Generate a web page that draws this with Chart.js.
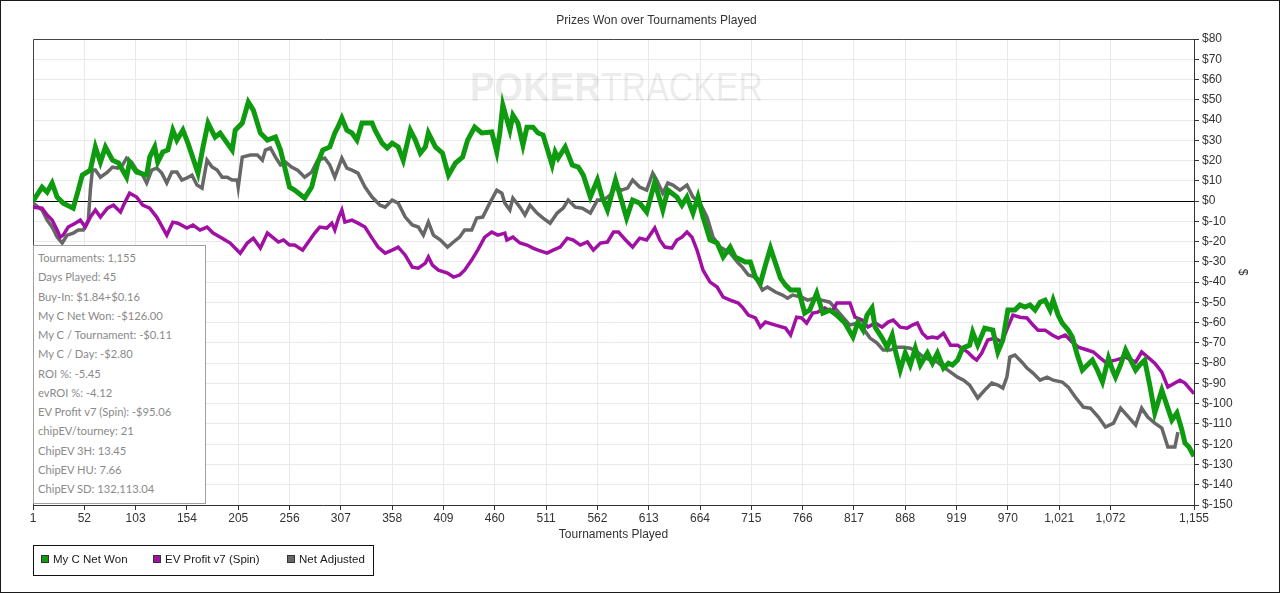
<!DOCTYPE html>
<html>
<head>
<meta charset="utf-8">
<script src="https://cdn.jsdelivr.net/npm/chart.js@4.4.1/dist/chart.umd.min.js"></script>
<style>
html,body{margin:0;padding:0;background:#fff;}
#wrap{position:relative;width:1280px;height:593px;overflow:hidden;}
#c{position:absolute;left:0;top:0;}
#frame{position:absolute;left:0;top:0;width:1280px;height:593px;box-sizing:border-box;border:1px solid #1a1a1a;pointer-events:none;}
#stats{position:absolute;left:33px;top:245px;width:173px;height:259px;box-sizing:border-box;border:1px solid #a0a0a0;background:#fff;
  font-family:Lato,"Noto Sans",sans-serif;font-size:11.2px;color:#8a8a8a;padding:2px 0 0 4px;}
#stats div{height:19.25px;line-height:19.25px;white-space:nowrap;}
</style>
</head>
<body>
<div id="wrap">
<canvas id="c" width="1280" height="593"></canvas>
<div id="stats"></div>
<div id="frame"></div>
</div>
<script>
// ---------------- data ----------------
const chartTitle = 'Prizes Won over Tournaments Played';
const xTitle = 'Tournaments Played';
const yTitle = '$';
const seriesNames = ['My C Net Won', 'EV Profit v7 (Spin)', 'Net Adjusted'];
const seriesColors = ['#0f9b0f', '#a010a3', '#676767'];
const xTicks = [1,52,103,154,205,256,307,358,409,460,511,562,613,664,715,766,817,868,919,970,1021,1072,1155];
const yMin = -150, yMax = 80, yStep = 10;

const statLines = [
  'Tournaments: 1,155',
  'Days Played: 45',
  'Buy-In: $1.84+$0.16',
  'My C Net Won: -$126.00',
  'My C / Tournament: -$0.11',
  'My C / Day: -$2.80',
  'ROI %: -5.45',
  'evROI %: -4.12',
  'EV Profit v7 (Spin): -$95.06',
  'chipEV/tourney: 21',
  'ChipEV 3H: 13.45',
  'ChipEV HU: 7.66',
  'ChipEV SD: 132,113.04'
];

const netWonT = [1,10,15,20,25,31,41,46,50,58,63,68,73,80,86,94,97,104,114,117,122,125,130,135,140,144,150,155,165,170,175,182,187,194,199,202,209,215,220,227,234,242,247,256,261,271,278,284,289,296,301,304,308,313,318,323,328,338,341,348,353,358,364,369,376,381,386,391,394,401,408,414,421,428,433,440,447,457,462,465,468,475,478,483,488,492,498,503,508,517,520,523,530,537,543,548,555,562,567,572,580,585,591,597,604,611,619,627,632,641,646,651,657,662,667,674,681,687,694,699,709,714,719,724,729,734,739,744,749,754,762,768,773,780,786,793,800,808,816,821,826,830,835,838,845,850,855,858,863,868,873,878,883,890,895,900,906,911,915,920,925,932,935,940,947,955,960,965,970,977,982,987,992,997,1002,1007,1012,1015,1020,1024,1030,1034,1039,1044,1049,1054,1059,1064,1070,1074,1077,1082,1087,1092,1097,1101,1106,1111,1116,1123,1128,1133,1138,1143,1146,1150,1155];
const netWonV = [0,6.9,4.4,8.9,2.0,-1.0,-3.5,5.4,12.8,15.3,26.7,19.2,26.7,20.2,18.8,11.8,19.2,14.3,12.8,21.7,26.7,19.2,24.2,25.2,35.0,30.1,35.0,28.6,13.8,26.7,38.5,31.6,33.6,28.6,25.2,35.0,38.5,48.9,44.9,33.6,30.1,31.6,25.2,6.9,5.4,1.5,6.9,18.8,25.2,26.7,33.6,36.5,41.0,35.0,33.6,30.1,38.5,38.5,35.0,28.6,26.2,28.6,26.7,20.2,35.0,30.1,23.7,26.7,33.6,26.7,23.7,12.8,18.8,21.7,30.1,36.5,33.6,34.1,24.2,33.6,47.4,35.0,42.4,38.5,27.6,36.5,36.5,33.6,32.6,17.8,24.2,21.2,26.7,17.8,16.8,12.8,2.0,10.4,1.5,-4.4,10.4,2.0,-8.4,0.5,-1.0,-5.4,9.4,-4.4,5.4,2.0,-2.0,2.0,-5.9,2.0,-7.9,-19.2,-20.7,-27.6,-22.7,-27.6,-30.1,-30.1,-37.5,-40.5,-31.6,-23.2,-30.6,-38.0,-41.5,-43.9,-43.9,-55.3,-53.8,-45.4,-55.3,-53.8,-56.3,-60.2,-67.1,-59.7,-63.7,-56.3,-52.8,-62.2,-67.6,-72.1,-66.1,-73.5,-83.4,-75.0,-80.9,-72.6,-80.9,-75.0,-80.0,-75.0,-82.4,-80.0,-80.9,-78.5,-72.6,-71.1,-64.7,-71.1,-62.7,-63.7,-74.5,-68.6,-53.8,-53.8,-51.3,-52.3,-51.3,-53.8,-49.9,-48.9,-53.8,-48.9,-56.3,-60.2,-63.7,-67.1,-76.0,-83.4,-80.9,-78.5,-83.4,-89.3,-77.5,-83.4,-86.9,-80.9,-73.5,-78.5,-83.4,-80.9,-78.5,-90.8,-104.6,-93.3,-100.7,-108.1,-104.6,-113.0,-119.4,-121.4,-126.0];

const evProfitT = [1,10,15,20,25,28,31,36,43,48,53,58,63,68,75,81,88,92,97,104,110,117,124,134,140,145,154,160,167,174,180,189,197,207,214,220,227,234,239,245,250,256,261,269,274,281,286,293,298,301,305,308,311,318,324,331,338,344,351,358,364,371,378,384,391,394,398,404,413,419,425,430,437,443,450,457,463,470,472,478,485,492,498,503,512,518,525,532,538,545,552,558,565,572,578,583,590,597,604,611,619,624,629,636,641,646,651,656,661,667,674,681,687,694,702,706,712,719,724,729,739,749,754,760,765,770,776,781,788,795,800,805,813,818,825,831,838,845,851,856,863,870,875,880,885,890,895,900,906,913,920,924,930,935,939,944,950,957,964,970,975,982,989,995,1000,1007,1014,1020,1027,1034,1040,1049,1055,1062,1067,1077,1087,1097,1103,1109,1116,1123,1129,1136,1141,1146,1155];
const evProfitV = [-3.0,-3.5,-6.9,-9.4,-14.3,-17.8,-16.8,-12.8,-10.9,-9.4,-12.8,-7.9,-4.4,-7.9,-3.5,-2.0,-5.4,-1.0,3.9,2.0,-2.0,-3.5,-7.9,-16.8,-10.4,-10.9,-13.3,-11.8,-14.3,-12.8,-15.8,-18.3,-20.7,-25.7,-20.7,-18.3,-23.2,-15.8,-17.8,-20.2,-19.2,-21.7,-21.7,-24.2,-20.7,-15.8,-12.8,-13.3,-10.9,-14.3,-7.9,-4.4,-10.4,-9.4,-10.9,-12.8,-18.3,-22.7,-25.7,-24.2,-22.7,-26.7,-32.6,-33.1,-30.6,-27.6,-31.6,-34.1,-35.5,-37.5,-36.5,-34.1,-29.1,-24.2,-17.8,-15.3,-16.8,-15.8,-19.2,-17.8,-20.7,-21.7,-23.2,-24.2,-25.7,-24.2,-22.7,-18.3,-19.2,-21.7,-20.2,-24.2,-20.7,-20.2,-15.3,-15.3,-19.2,-22.7,-18.3,-19.2,-13.3,-19.2,-22.7,-23.2,-19.2,-17.8,-15.3,-17.8,-24.2,-34.1,-40.0,-42.4,-47.4,-48.9,-50.3,-52.3,-56.3,-57.7,-62.2,-59.7,-61.2,-62.7,-66.1,-57.3,-57.7,-60.2,-55.3,-54.8,-52.8,-54.8,-50.3,-50.3,-50.3,-57.3,-58.7,-62.2,-60.2,-62.2,-59.7,-58.7,-62.2,-62.7,-61.2,-60.2,-65.2,-67.6,-67.1,-67.6,-65.2,-71.1,-71.1,-72.6,-74.5,-77.0,-78.5,-75.0,-68.6,-67.6,-69.6,-62.2,-56.3,-57.3,-57.7,-61.2,-63.7,-63.7,-66.1,-67.6,-66.1,-69.6,-72.1,-73.5,-74.5,-77.5,-79.5,-78.5,-77.0,-79.5,-74.5,-77.0,-80.0,-84.4,-91.8,-89.8,-88.4,-89.8,-95.06];

const netAdjT = [1,10,15,20,25,30,35,41,46,51,56,58,60,63,68,75,80,85,90,94,99,104,109,114,119,124,129,134,139,144,149,154,159,164,169,174,179,184,189,194,199,204,205,209,217,224,229,232,237,242,247,252,258,264,271,278,284,291,296,301,308,313,318,324,331,338,346,351,358,364,371,378,384,389,394,399,406,413,419,425,430,437,442,448,455,462,467,470,475,478,485,490,495,502,508,515,522,528,533,540,547,555,562,568,575,580,586,592,597,604,611,617,621,627,632,637,644,651,657,664,671,677,684,694,702,706,712,719,726,731,739,746,751,756,765,771,778,785,793,800,806,813,820,826,833,840,846,853,860,866,873,880,886,893,900,906,913,920,926,932,940,947,954,960,965,969,972,977,984,989,995,1002,1009,1015,1024,1030,1037,1045,1052,1060,1067,1075,1082,1090,1097,1103,1109,1116,1123,1129,1136,1139];
const netAdjV = [-1.0,-4.4,-9.4,-12.8,-17.8,-20.7,-16.8,-15.8,-14.3,-14.3,-9.4,5.4,15.3,15.3,11.8,14.3,16.8,16.3,17.8,21.2,19.2,15.3,13.8,8.9,15.3,16.3,13.8,8.9,14.3,14.3,10.4,11.4,12.8,7.9,6.4,20.2,16.8,15.3,11.8,11.8,10.4,10.4,6.9,21.7,22.7,22.7,20.2,25.2,26.2,21.7,17.8,19.2,16.8,15.3,11.8,14.3,20.2,21.2,17.8,11.8,21.2,16.3,15.3,13.8,6.9,2.0,-2.0,-3.0,0.5,-1.0,-7.9,-11.8,-12.8,-16.8,-10.4,-16.8,-19.2,-22.7,-20.2,-17.8,-14.3,-14.3,-8.4,-7.9,-1.0,5.4,3.9,-1.0,-4.4,1.5,-3.0,-6.9,-2.0,-5.9,-8.4,-10.9,-5.9,-3.5,0.5,-3.0,-3.5,-5.9,0.5,0.5,3.0,6.9,5.4,6.4,10.4,6.9,5.4,13.8,10.4,3.9,8.9,7.9,5.4,7.9,2.0,-1.0,-7.9,-17.8,-22.7,-25.7,-30.6,-32.6,-36.5,-37.5,-43.9,-42.4,-44.9,-46.4,-47.9,-46.4,-47.4,-48.9,-47.9,-48.9,-49.9,-53.8,-57.3,-61.2,-60.2,-62.7,-67.6,-70.1,-73.5,-73.5,-72.1,-72.1,-72.6,-74.5,-77.0,-78.5,-79.5,-81.9,-84.4,-86.9,-88.4,-90.8,-97.2,-93.3,-89.8,-90.8,-92.3,-86.9,-77.0,-76.0,-79.5,-82.4,-84.9,-88.4,-86.9,-88.4,-89.3,-91.8,-96.7,-101.7,-102.2,-106.6,-111.5,-109.6,-102.2,-106.6,-110.6,-102.2,-106.6,-109.6,-112.0,-121.4,-121.4,-114.0];

// ---------------- build ----------------
function toPoints(xs, ys){ return xs.map((x,i)=>({x:x, y:ys[i]})); }

document.getElementById('stats').innerHTML = statLines.map(s=>'<div>'+s.replace(/&/g,'&amp;')+'</div>').join('');

const axisFont = {family:'"Liberation Sans", Arial, sans-serif', size:12, lineHeight:1.2};
const axisColor = '#333333';

const plotDecor = {
  id:'plotDecor',
  beforeDatasetsDraw(chart){
    const {ctx, chartArea:a} = chart;
    ctx.save();
    // watermark
    ctx.fillStyle = 'rgba(0,0,0,0.075)';
    ctx.textBaseline = 'alphabetic';
    ctx.font = 'bold 41px "Liberation Sans", Arial, sans-serif';
    ctx.fillText('POKER', 470, 101, 131);
    ctx.font = '41px "Liberation Sans", Arial, sans-serif';
    ctx.fillText('TRACKER', 601, 101, 162);
    // top & left frame of the plot
    ctx.strokeStyle = '#444';
    ctx.lineWidth = 1;
    ctx.beginPath();
    ctx.moveTo(a.left+0.5, a.bottom);
    ctx.lineTo(a.left+0.5, a.top+0.5);
    ctx.lineTo(a.right, a.top+0.5);
    ctx.stroke();
    ctx.restore();
  },
  afterDraw(chart){
    const {ctx} = chart;
    ctx.save();
    // legend box
    ctx.strokeStyle = '#111';
    ctx.lineWidth = 1;
    ctx.strokeRect(33.5, 545.5, 340, 30);
    const itemX = [41, 153, 287];
    ctx.font = '11.5px "Liberation Sans", Arial, sans-serif';
    ctx.textBaseline = 'middle';
    chart.data.datasets.forEach((ds,i)=>{
      const x = itemX[i];
      ctx.fillStyle = ds.borderColor;
      ctx.fillRect(x, 555, 8, 8);
      ctx.strokeStyle = '#333';
      ctx.strokeRect(x+0.5, 555.5, 7, 7);
      ctx.fillStyle = '#1a1a1a';
      ctx.fillText(ds.label, x+12, 560);
    });
    ctx.restore();
  }
};

new Chart(document.getElementById('c'), {
  type:'line',
  data:{
    datasets:[
      {label:seriesNames[0], data:toPoints(netWonT, netWonV), borderColor:seriesColors[0], backgroundColor:seriesColors[0], borderWidth:5, pointRadius:0, tension:0},
      {label:seriesNames[1], data:toPoints(evProfitT, evProfitV), borderColor:seriesColors[1], backgroundColor:seriesColors[1], borderWidth:3.5, pointRadius:0, tension:0},
      {label:seriesNames[2], data:toPoints(netAdjT, netAdjV), borderColor:seriesColors[2], backgroundColor:seriesColors[2], borderWidth:3.5, pointRadius:0, tension:0}
    ]
  },
  options:{
    responsive:false,
    animation:false,
    devicePixelRatio:1,
    parsing:true,
    layout:{padding:{left:33, right:0, top:0, bottom:48}},
    plugins:{
      legend:{display:false},
      tooltip:{enabled:false},
      title:{display:true, text:chartTitle, color:axisColor, font:{family:axisFont.family, size:12, weight:'normal', lineHeight:1.2}, padding:{top:13.5, bottom:11.1}}
    },
    scales:{
      x:{
        type:'linear', min:xTicks[0], max:xTicks[xTicks.length-1],
        afterBuildTicks(s){ s.ticks = xTicks.map(v=>({value:v})); },
        afterFit(s){ s.height = 40; },
        ticks:{autoSkip:false, maxRotation:0, color:axisColor, font:axisFont, padding:1,
          callback:(v)=>Number(v).toLocaleString('en-US')},
        grid:{color:'#e9e9e9', tickColor:'#333', tickLength:5},
        border:{color:'#333'},
        title:{display:true, text:xTitle, color:axisColor, font:axisFont, padding:{top:0, bottom:3}}
      },
      y:{
        position:'right', min:yMin, max:yMax,
        afterFit(s){ s.width = 86; },
        ticks:{stepSize:yStep, color:axisColor, font:axisFont, padding:3, callback:(v)=>'$'+v},
        grid:{color:(c)=> (c.tick && c.tick.value===0) ? '#000000' : '#e9e9e9', tickColor:'#333', tickLength:5},
        border:{color:'#333'},
        title:{display:true, text:yTitle, color:axisColor, font:axisFont, padding:{top:30, bottom:0}}
      }
    }
  },
  plugins:[plotDecor]
});
</script>
</body>
</html>
